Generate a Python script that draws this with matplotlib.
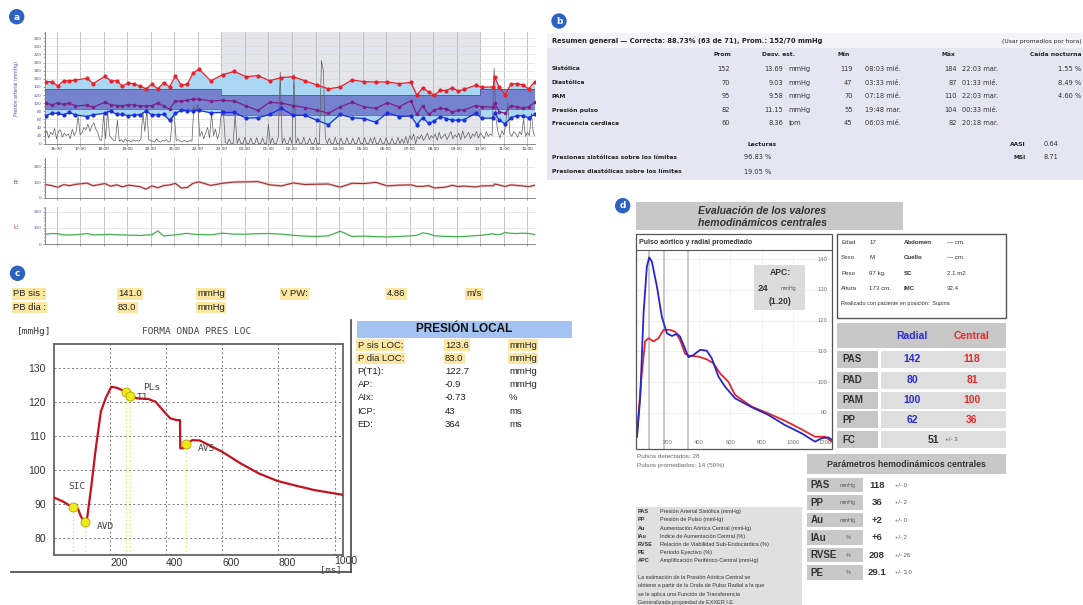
import matplotlib
matplotlib.use('Agg')
import matplotlib.pyplot as plt
from matplotlib.patches import Rectangle, Circle
from matplotlib.ticker import MultipleLocator
from matplotlib.transforms import Bbox
from matplotlib import font_manager

W, H = 1083, 605

# ---------------- panel a: MAPA 24 h ----------------
read_times = ['15:33', '15:48', '16:03', '16:18', '16:33', '16:48', '17:18', '17:33', '18:03', '18:18',
              '18:33', '18:48', '19:03', '19:18', '19:33', '19:48', '20:03', '20:18', '20:33', '20:48',
              '21:03', '21:18', '21:33', '21:48', '22:03', '22:33', '23:03', '23:33', '00:03', '00:33',
              '01:03', '01:33', '02:03', '02:33', '03:03', '03:33', '04:03', '04:33', '05:03', '05:33',
              '06:03', '06:33', '07:03', '07:18', '07:33', '07:48', '08:03', '08:18', '08:33', '08:48',
              '09:03', '09:18', '09:48', '10:03', '10:33', '10:36', '10:48', '11:03', '11:18', '11:33',
              '11:48', '12:03', '12:18']
sys_bp = [153, 153, 142, 155, 155, 157, 161, 148, 166, 155, 155, 142, 150, 147, 142, 135, 147, 135, 150, 140,
          167, 144, 147, 174, 184, 155, 170, 178, 165, 168, 155, 163, 165, 155, 145, 135, 140, 157, 153, 152,
          152, 148, 151, 120, 137, 128, 119, 132, 131, 138, 130, 134, 144, 139, 140, 164, 140, 121, 147, 148,
          145, 135, 152]
dia_bp = [69, 75, 75, 71, 77, 71, 67, 71, 75, 81, 72, 72, 69, 71, 71, 80, 71, 71, 72, 58,
          75, 82, 81, 81, 82, 76, 77, 77, 63, 64, 72, 87, 70, 70, 58, 47, 72, 64, 62, 53,
          76, 67, 68, 47, 64, 50, 56, 67, 62, 58, 58, 59, 75, 63, 63, 76, 58, 49, 64, 69,
          69, 64, 72]
pam_bp = [100, 96, 100, 97, 100, 93, 95, 90, 102, 96, 94, 93, 96, 95, 93, 93, 94, 100, 93, 85,
          105, 105, 107, 110, 110, 105, 107, 105, 93, 82, 102, 100, 94, 89, 83, 75, 91, 102, 91, 87,
          101, 91, 106, 72, 93, 72, 83, 87, 86, 78, 83, 83, 94, 91, 90, 100, 79, 75, 94, 91,
          87, 91, 102]
pp_vals = [84, 78, 67, 84, 78, 86, 94, 77, 91, 74, 83, 70, 81, 76, 71, 55, 76, 64, 78, 82,
           92, 62, 66, 93, 102, 79, 93, 101, 102, 104, 83, 76, 95, 85, 87, 88, 68, 93, 91, 99,
           76, 81, 83, 73, 73, 78, 63, 65, 69, 80, 72, 75, 69, 76, 77, 88, 82, 72, 83, 79,
           76, 71, 80]
fc_vals = [62, 66, 65, 57, 57, 58, 66, 57, 60, 61, 58, 58, 56, 55, 54, 57, 58, 82, 50, 55,
           57, 63, 67, 62, 60, 58, 68, 62, 62, 65, 66, 62, 55, 50, 48, 52, 80, 48, 50, 47,
           45, 48, 52, 55, 70, 64, 52, 50, 48, 48, 46, 48, 53, 55, 65, 60, 58, 72, 67, 66,
           68, 66, 60]
day_limits = (135, 85)
night_limits = (120, 70)
night_start, night_end = '23:00', '10:00'
activity_start = '15:30'   # one value every 5 min
activity = [18, 32, 14, 28, 22, 38, 12, 30, 34, 16, 26, 20,
            24, 12, 36, 20, 30, 68, 22, 28, 40, 34, 48, 30,
            44, 52, 36, 28, 10, 8, 72, 12, 82, 20, 14, 8,
            8, 58, 6, 10, 4, 12, 6, 8, 4, 10, 6, 8,
            6, 12, 78, 30, 84, 10, 8, 6, 4, 12, 6, 4,
            8, 6, 10, 4, 6, 62, 70, 8, 10, 6, 4, 8,
            6, 4, 8, 6, 92, 80, 96, 18, 30, 12, 26, 40,
            14, 76, 20, 36, 12, 28, 78, 82, 4, 0, 12, 0,
            0, 72, 0, 14, 0, 0, 16, 0, 0, 14, 0, 0,
            15, 0, 0, 14, 0, 0, 48, 0, 14, 0, 0, 16,
            176, 0, 14, 0, 0, 16, 0, 170, 0, 14, 0, 0,
            16, 0, 0, 14, 0, 0, 15, 0, 0, 205, 180, 14,
            0, 14, 0, 0, 16, 0, 0, 14, 0, 0, 15, 0,
            0, 14, 0, 0, 16, 0, 0, 15, 0, 0, 14, 0,
            16, 0, 0, 14, 0, 0, 15, 0, 0, 14, 0, 0,
            16, 0, 12, 0, 18, 0, 20, 10, 24, 0, 18, 12,
            22, 8, 16, 26, 10, 20, 14, 24, 8, 28, 12, 18,
            24, 10, 20, 30, 12, 22, 16, 26, 10, 32, 14, 20,
            28, 12, 24, 18, 30, 14, 26, 20, 12, 30, 18, 24,
            20, 186, 60, 28, 14, 32, 22, 55, 100, 26, 18, 30,
            24, 16, 30, 22, 60, 18, 28, 20, 75, 26, 18, 30]

# ---------------- panel b: resumen ----------------
b_params = ['Sistólica', 'Diastólica', 'PAM', 'Presión pulso', 'Frecuencia cardiaca']
b_prom = ['152', '70', '95', '82', '60']
b_desv = ['13.69', '9.03', '9.58', '11.15', '8.36']
b_unit = ['mmHg', 'mmHg', 'mmHg', 'mmHg', 'lpm']
b_min = ['119', '47', '70', '55', '45']
b_min_t = ['08:03 mié.', '03:33 mié.', '07:18 mié.', '19:48 mar.', '06:03 mié.']
b_max = ['184', '87', '110', '104', '82']
b_max_t = ['22:03 mar.', '01:33 mié.', '22:03 mar.', '00:33 mié.', '20:18 mar.']
b_caida = ['1.55 %', '8.49 %', '4.60 %', '', '']
b_lect_labels = ['Presiones sistólicas sobre los límites', 'Presiones diastólicas sobre los límites']
b_lect = ['96.83 %', '19.05 %']

# ---------------- panel c: presión local ----------------
wave_ms = [0, 33, 66, 86, 96, 109, 118, 132, 149, 167, 184, 204, 224, 257, 272, 296, 336, 362, 388, 414,
           438, 449, 450, 461, 471, 493, 520, 546, 599, 664, 730, 796, 862, 928, 1030]
wave_mmhg = [91.8, 90.6, 88.9, 88.4, 86.2, 84.7, 85.7, 94.5, 106.3, 117.1, 121.0, 124.4, 124.1, 122.9,
             121.8, 121.0, 120.8, 120.0, 117.5, 115.1, 114.6, 114.6, 106.3, 106.3, 107.5, 108.7, 108.6,
             107.5, 105.3, 101.9, 98.9, 96.7, 95.3, 94.0, 92.6]
pts_names = ['SIC', 'AVD', 'PLs', 'T1', 'AVS']
pts_ms = [66, 109, 257, 272, 471]
pts_mmhg = [88.9, 84.5, 122.9, 121.8, 107.5]
local_labels = ['P sis LOC:', 'P dia LOC:', 'P(T1):', 'AP:', 'AIx:', 'ICP:', 'ED:']
local_values = ['123.6', '83.0', '122.7', '-0.9', '-0.73', '43', '364']
local_units = ['mmHg', 'mmHg', 'mmHg', 'mmHg', '%', 'ms', 'ms']

# ---------------- panel d: valores centrales ----------------
radial_ms = [6, 27, 48, 69, 84, 101, 133, 164, 196, 228, 260, 280, 302, 333, 365, 408, 450, 482, 524, 566,
             630, 736, 841, 947, 1053, 1138, 1180, 1222, 1254]
radial_mmhg = [82.2, 95.2, 122.4, 137.6, 140.6, 139.2, 131.1, 121.3, 115.9, 115.0, 115.7, 114.8, 112.1,
               108.1, 108.8, 110.5, 110.2, 107.7, 101.8, 98.5, 94.7, 91.8, 89.3, 86.0, 83.3, 80.6, 81.7,
               82.0, 80.9]
central_ms = [6, 33, 58, 79, 111, 143, 175, 217, 249, 280, 312, 344, 397, 450, 492, 535, 587, 630, 736,
              841, 947, 1053, 1138, 1201, 1254]
central_mmhg = [82.2, 100.7, 113.2, 114.3, 113.2, 114.3, 117.0, 117.0, 116.4, 113.7, 109.2, 108.5, 108.3,
                107.4, 106.1, 102.8, 100.1, 95.8, 92.0, 89.8, 87.4, 84.6, 82.2, 82.2, 80.3]
marks_ms = [84, 181, 333]
apc = ('24', '(1.20)')
patient = [('Edad', '17', 'Abdomen', '— cm.'), ('Sexo', 'M', 'Cuello', '— cm.'),
           ('Peso', '97 kg.', 'SC', '2.1 m2'), ('Altura', '173 cm.', 'IMC', '32.4')]
rc_params = ['PAS', 'PAD', 'PAM', 'PP']
rc_radial = ['142', '80', '100', '62']
rc_central = ['118', '81', '100', '36']
fc_value, fc_sd = '51', '+/- 3'
hc_params = ['PAS', 'PP', 'Au', 'IAu', 'RVSE', 'PE']
hc_units = ['mmHg', 'mmHg', 'mmHg', '%', '%', '%']
hc_values = ['118', '36', '+2', '+6', '208', '29.1']
hc_sd = ['+/- 0', '+/- 2', '+/- 0', '+/- 2', '+/- 26', '+/- 3.0']
legend_abbr = ['PAS', 'PP', 'Au', 'IAu', 'RVSE', 'PE', 'APC']
legend_desc = ['Presión Arterial Sistólica (mmHg)', 'Presión de Pulso (mmHg)',
               'Aumentación Aórtica Central (mmHg)', 'Indice de Aumentación Central (%)',
               'Relación de Viabilidad Sub-Endocárdica (%)', 'Período Eyectivo (%)',
               'Amplificación Periférico-Central (mmHg)']
legend_note = ['La estimación de la Presión Aórtica Central se',
               'obtiene a partir de la Onda de Pulso Radial a la que',
               'se le aplica una Función de Transferencia',
               'Generalizada propiedad de EXXER I.E.']


def hrs(s):
    h, m = map(int, s.split(':'))
    v = h + m / 60
    return v + 24 if v < 15 else v


names = {f.name for f in font_manager.fontManager.ttflist}
NARROW = 'Liberation Sans Narrow' if 'Liberation Sans Narrow' in names else 'Liberation Sans'
NS = 1.0 if NARROW == 'Liberation Sans Narrow' else 0.82
ARIAL = 'Liberation Sans'
plt.rcParams['font.family'] = ['DejaVu Sans']

fig = plt.figure(figsize=(W / 100, H / 100), dpi=100)


def rect(x0, y0, x1, y1):
    return [x0 / W, 1 - y1 / H, (x1 - x0) / W, (y1 - y0) / H]


def overlay():
    ov = fig.add_axes([0, 0, 1, 1])
    ov.set_xlim(0, W)
    ov.set_ylim(H, 0)
    ov.axis('off')
    return ov


bg = overlay()

# ===== panel a =====
t_read = [hrs(t) for t in read_times]
x0a, x1a = 15.51, 36.32
ns, ne = hrs(night_start), hrs(night_end)
band_t = [x0a, ns, ns, ne, ne, x1a]
band_hi = [day_limits[0], day_limits[0], night_limits[0], night_limits[0], day_limits[0], day_limits[0]]
band_lo = [day_limits[1], day_limits[1], night_limits[1], night_limits[1], day_limits[1], day_limits[1]]
act_t = [hrs(activity_start) + i / 12 for i in range(len(activity))]
hours = list(range(16, 37))


def style_small(ax, ymax, yticks, minor):
    ax.set_xlim(x0a, x1a)
    ax.set_ylim(0, ymax)
    ax.set_xticks(hours)
    ax.set_yticks(yticks)
    ax.yaxis.set_minor_locator(MultipleLocator(minor))
    ax.tick_params(labelsize=3, length=1.5, width=0.4, pad=1, colors='#555')
    ax.tick_params(axis='y', which='minor', length=1, width=0.3)
    ax.tick_params(axis='y', labelcolor='#5050a8')
    ax.xaxis.grid(True, color='#b8b8b8', lw=0.6)
    ax.yaxis.grid(True, color='#dcdcdc', lw=0.5)
    ax.set_axisbelow(True)
    for s in ['top', 'right']:
        ax.spines[s].set_visible(False)
    for s in ['left', 'bottom']:
        ax.spines[s].set_color('#777')
        ax.spines[s].set_linewidth(0.6)


ax_a = fig.add_axes(rect(45, 31.7, 535, 143.7))
style_small(ax_a, 276, range(0, 261, 20), 10)
ax_a.set_xticklabels([f'{h % 24:02d}:00' for h in hours], color='#333')
ax_a.axvspan(ns, ne, color='#e5e5ec', lw=0, zorder=0)
ax_a.fill_between(t_read, sys_bp, dia_bp, color='#a9d6f3', lw=0, zorder=2)
ax_a.fill_between(band_t, band_lo, band_hi, color='#5f5fc2', alpha=0.7, lw=0, zorder=3)
ax_a.plot(band_t, band_hi, color='#4a4a9a', lw=0.5, zorder=3)
ax_a.plot(band_t, band_lo, color='#4a4a9a', lw=0.5, zorder=3)
ax_a.plot(act_t, activity, color='#5e5e5e', lw=0.5, zorder=3.5)
ax_a.plot(t_read, sys_bp, color='#e8202a', marker='o', ms=2, lw=0.9, zorder=5)
ax_a.plot(t_read, pam_bp, color='#7a2288', marker='o', ms=1.6, lw=0.9, zorder=5)
ax_a.plot(t_read, dia_bp, color='#1a2ee0', marker='o', ms=2, lw=0.9, zorder=5)

ax_pp = fig.add_axes(rect(45, 158.3, 535, 197.7))
style_small(ax_pp, 254, [0, 100, 200], 20)
ax_pp.set_xticklabels([])
ax_pp.plot(t_read, pp_vals, color='#f0b8b8', lw=1.8)
ax_pp.plot(t_read, pp_vals, color='#8e2c2c', lw=0.7)

ax_fc = fig.add_axes(rect(45, 206.7, 535, 244.3))
style_small(ax_fc, 230, [0, 100, 200], 20)
ax_fc.set_xticklabels([])
ax_fc.plot(t_read, fc_vals, color='#3db34a', lw=0.9)

# ===== panel b backgrounds =====
bg.add_patch(Rectangle((547, 33.3), 540, 15, color='#f3f3f8', lw=0))
bg.add_patch(Rectangle((547, 48.3), 540, 132, color='#e6e6f3', lw=0))

# ===== panel c chart =====
ax_c = fig.add_axes(rect(54, 344.3, 343, 555))
ax_c.set_xlim(0, 1030)
ax_c.set_ylim(74.9, 136.9)
ax_c.set_xticks([200, 400, 600, 800])
ax_c.set_yticks([80, 90, 100, 110, 120, 130])
ax_c.tick_params(length=0, labelsize=7.5, colors='#333', pad=6)
ax_c.tick_params(axis='x', pad=2)
for lab in ax_c.get_xticklabels():
    lab.set_ha('left')
    lab.set_family(ARIAL)
for lab in ax_c.get_yticklabels():
    lab.set_family(ARIAL)
ax_c.grid(True, color='#7a7a7a', ls=(0, (2, 2.5)), lw=0.7)
ax_c.axvline(1000, color='#7a7a7a', ls=(0, (2, 2.5)), lw=0.7)
for s in ax_c.spines.values():
    s.set_color('#666')
    s.set_linewidth(1.3)
ax_c.vlines(pts_ms, 74.9, pts_mmhg, colors='#efe78a', linestyles=(0, (1.5, 1.5)), lw=0.9, zorder=2)
ax_c.plot(wave_ms, wave_mmhg, color='#c4121e', lw=1.6, zorder=3)
ax_c.plot(pts_ms, pts_mmhg, 'o', ms=6.5, mfc='#eeea1c', mec='#b0a300', mew=0.6, zorder=4)
label_off = {'SIC': (-3, 15), 'AVD': (9, -3), 'PLs': (12, 3), 'T1': (5, -1), 'AVS': (8.5, -3)}
for n, xm, ym in zip(pts_names, pts_ms, pts_mmhg):
    ax_c.annotate(n, (xm, ym), xytext=label_off[n], textcoords='offset points',
                  ha='left', va='center', fontsize=6.8, family='DejaVu Sans Mono', color='#444', zorder=5)

# ===== panel d chart =====
ax_d = fig.add_axes(rect(636, 250, 832, 449))
ax_d.set_xlim(0, 1246)
ax_d.set_ylim(78.2, 143)
ax_d.set_xticks([])
ax_d.set_yticks([])
for s in ax_d.spines.values():
    s.set_visible(False)
for v in range(90, 141, 10):
    ax_d.axhline(v, color='#efefef', lw=0.6, zorder=0)
    ax_d.text(1215, v, str(v), ha='right', va='center', fontsize=4.2, color='#777', family=ARIAL)
for v in range(200, 1201, 200):
    ax_d.axvline(v, color='#f2f2f2', lw=0.6, zorder=0)
    ax_d.text(v, 80.2, str(v), ha='center', va='center', fontsize=4.2, color='#777', family=ARIAL,
              clip_on=True)
for m in marks_ms:
    ax_d.axvline(m, color='#c4c4c4', lw=1.3, zorder=1)
ax_d.plot(central_ms, central_mmhg, color='#e8262c', lw=1.3, zorder=3)
ax_d.plot(radial_ms, radial_mmhg, color='#2626cc', lw=1.3, zorder=4)

fg = overlay()


def badge(x, y, letter):
    fg.add_patch(Circle((x, y), 7, color='#2d62c2', zorder=5))
    fg.text(x, y + 0.3, letter, ha='center', va='center', color='white', fontsize=6.5,
            fontweight='bold', zorder=6)


badge(16.7, 16.7, 'a')
badge(559, 21, 'b')
badge(17.5, 273.3, 'c')
badge(622.7, 205.7, 'd')

# panel a side labels
fg.text(16.5, 88, 'Presión arterial (mmHg)', rotation=90, ha='center', va='center', fontsize=3.3,
        color='#5050a8')
fg.text(17, 180, 'PP', rotation=90, ha='center', va='center', fontsize=3.3, color='#5050a8')
fg.text(17, 225, 'FC', rotation=90, ha='center', va='center', fontsize=3.3, color='#c05070')

# ===== panel b texts =====
tb = dict(color='#222', va='center')
fg.text(552, 41, 'Resumen general — Correcta: 88.73% (63 de 71), Prom.: 152/70 mmHg', fontsize=4.9,
        fontweight='bold', **tb)
fg.text(1082, 41, '(Usar promedios por hora)', fontsize=4.3, ha='right', **tb)
hb = dict(fontsize=4.3, fontweight='bold', **tb)
fg.text(731.7, 55, 'Prom', ha='right', **hb)
fg.text(761.5, 55, 'Desv. est.', ha='left', **hb)
fg.text(838, 55, 'Mín', ha='left', **hb)
fg.text(942, 55, 'Máx', ha='left', **hb)
fg.text(1081, 55, 'Caída nocturna', ha='right', **hb)
vb = dict(fontsize=4.8, color='#333', va='center')
for i, name in enumerate(b_params):
    y = 69 + i * 13.6
    fg.text(552, y, name, ha='left', **hb)
    fg.text(730, y, b_prom[i], ha='right', **vb)
    fg.text(783, y, b_desv[i], ha='right', **vb)
    fg.text(788, y, b_unit[i], ha='left', **vb)
    fg.text(852.5, y, b_min[i], ha='right', **vb)
    fg.text(864.7, y, b_min_t[i], ha='left', **vb)
    fg.text(956.7, y, b_max[i], ha='right', **vb)
    fg.text(962, y, b_max_t[i], ha='left', **vb)
    fg.text(1081, y, b_caida[i], ha='right', **vb)
fg.text(747.6, 144, 'Lecturas', ha='left', **hb)
fg.text(1025.4, 144, 'AASI', ha='right', **hb)
fg.text(1044, 144, '0.64', ha='left', **vb)
fg.text(1025.4, 157.3, 'MSI', ha='right', **hb)
fg.text(1044, 157.3, '8.71', ha='left', **vb)
for i, name in enumerate(b_lect_labels):
    y = 157.3 + i * 14.4
    fg.text(552, y, name, ha='left', **hb)
    fg.text(743.5, y, b_lect[i], ha='left', **vb)

# ===== panel c texts =====
hl = dict(boxstyle='square,pad=0.12', fc='#fbe7a1', ec='none')
tc = dict(family=NARROW, fontsize=8.3 * NS, color='#222', va='center', ha='left')
for i in range(2):
    y = 294 + i * 13.3
    fg.text(13, y, ['PB sis :', 'PB dia :'][i], bbox=hl, **tc)
    fg.text(118, y, ['141.0', '83.0'][i], bbox=hl, **tc)
    fg.text(197, y, 'mmHg', bbox=hl, **tc)
fg.text(281, 294, 'V PW:', bbox=hl, **tc)
fg.text(387, 294, '4.86', bbox=hl, **tc)
fg.text(466, 294, 'm/s', bbox=hl, **tc)
fg.text(16.7, 332, '[mmHg]', fontsize=6.8, family='DejaVu Sans Mono', color='#333', va='center')
fg.text(197, 332, 'FORMA ONDA PRES LOC', fontsize=6.8, family='DejaVu Sans Mono', color='#444',
        ha='center', va='center')
fg.text(320, 569.5, '[ms]', fontsize=6.5, family='DejaVu Sans Mono', color='#444', va='center')
t1000 = fg.text(334.6, 561, '1000', fontsize=7.5, family=ARIAL, color='#333', va='center', ha='left')
t1000.set_clip_box(Bbox.from_extents(0, 0, 350.5, H))
fg.plot([351.3, 351.3], [320, 571.7], color='#444', lw=1.2)
fg.plot([11, 351.3], [571.7, 571.7], color='#444', lw=1.2)
fg.add_patch(Rectangle((357, 321), 215, 16.7, color='#a4c2f2', lw=0))
fg.text(464.5, 329.5, 'PRESIÓN LOCAL', ha='center', va='center', fontsize=8.5, fontweight='bold',
        family=ARIAL, color='#111')
for i, lab in enumerate(local_labels):
    y = 345 + i * 13.2
    box = hl if i < 2 else None
    fg.text(357.6, y, lab, bbox=box, **tc)
    fg.text(445, y, local_values[i], bbox=box, **tc)
    fg.text(509, y, local_units[i], bbox=box, **tc)

# ===== panel d texts and boxes =====
fg.add_patch(Rectangle((636, 202.3), 267, 27.7, color='#c8c8c8', lw=0, zorder=1))
ti = dict(ha='center', va='center', fontsize=7.6, fontweight='bold', fontstyle='italic', family=ARIAL,
          color='#333', zorder=2)
fg.text(762, 210.7, 'Evaluación de los valores', **ti)
fg.text(762, 223.3, 'hemodinámicos centrales', **ti)
fg.add_patch(Rectangle((636, 234.3), 196, 215, fill=False, ec='#555', lw=0.9))
fg.plot([636, 832], [250, 250], color='#555', lw=0.8)
fg.text(639, 242.5, 'Pulso aórtico y radial promediado', fontsize=5, fontweight='bold', family=ARIAL,
        color='#333', va='center')
fg.add_patch(Rectangle((754.3, 265), 50.7, 45, color='#dcdcdc', lw=0))
fg.text(780, 272.7, 'APC:', ha='center', va='center', fontsize=6.2, fontweight='bold', family=ARIAL,
        color='#333')
fg.text(762.5, 288.3, apc[0], ha='center', va='center', fontsize=6.8, fontweight='bold', family=ARIAL,
        color='#333')
fg.text(788, 288.3, 'mmHg', ha='center', va='center', fontsize=3.8, family=ARIAL, color='#555')
fg.text(780, 301.7, apc[1], ha='center', va='center', fontsize=6.2, fontweight='bold', family=ARIAL,
        color='#333')
fg.text(637, 456.7, 'Pulsos detectados: 28', fontsize=4.6, family=ARIAL, color='#666', va='center')
fg.text(637, 465, 'Pulsos promediados: 14 (50%)', fontsize=4.6, family=ARIAL, color='#666', va='center')

# patient box
fg.add_patch(Rectangle((837.3, 234.3), 168.7, 83.4, fill=False, ec='#555', lw=1))
tp = dict(fontsize=4.4, family=ARIAL, color='#333', va='center', ha='left')
for i, (l1, v1, l2, v2) in enumerate(patient):
    y = 242.7 + i * 15.2
    fg.text(841, y, l1, **tp)
    fg.text(869.3, y, v1, **tp)
    fg.text(904, y, l2, fontweight='bold', **tp)
    fg.text(946.7, y, v2, **tp)
fg.text(841, 303.3, 'Realizado con paciente en posición:  Supina', **dict(tp, fontsize=4.0))

# radial / central table
fg.add_patch(Rectangle((837, 323.3), 169, 25, color='#c8c8c8', lw=0))
fg.text(912, 336, 'Radial', ha='center', va='center', fontsize=7.5, fontweight='bold', family=ARIAL,
        color='#2a2ad8')
fg.text(972, 336, 'Central', ha='center', va='center', fontsize=7.5, fontweight='bold', family=ARIAL,
        color='#e82a2a')
row_y = [350.7, 371.7, 391.7, 411, 431]
for i, y in enumerate(row_y):
    fg.add_patch(Rectangle((837, y), 40.7, 17, color='#c6c6c6', lw=0))
    fg.add_patch(Rectangle((881, y), 125, 17, color='#dedede', lw=0))
    lab = rc_params[i] if i < 4 else 'FC'
    fg.text(842, y + 8.7, lab, ha='left', va='center', fontsize=7, fontweight='bold', family=ARIAL,
            color='#333')
    if i < 4:
        fg.text(912, y + 8.7, rc_radial[i], ha='center', va='center', fontsize=7.5, fontweight='bold',
                family=ARIAL, color='#2a2ad8')
        fg.text(972, y + 8.7, rc_central[i], ha='center', va='center', fontsize=7.5, fontweight='bold',
                family=ARIAL, color='#e82a2a')
    else:
        fg.text(933, y + 8.7, fc_value, ha='center', va='center', fontsize=7.5, fontweight='bold',
                family=ARIAL, color='#333')
        fg.text(945, y + 8.2, fc_sd, ha='left', va='center', fontsize=4.4, family=ARIAL, color='#555')

# central hemodynamic parameters
fg.add_patch(Rectangle((807.3, 454), 198.7, 20.3, color='#c8c8c8', lw=0))
fg.text(906.5, 464.2, 'Parámetros hemodinámicos centrales', ha='center', va='center', fontsize=6.3,
        fontweight='bold', family=ARIAL, color='#333')
for i, p in enumerate(hc_params):
    y = 477.7 + i * 17.5
    fg.add_patch(Rectangle((807.3, y), 55.4, 14.7, color='#c8c8c8', lw=0))
    fg.text(810.7, y + 7.4, p, ha='left', va='center', fontsize=7, fontweight='bold', family=ARIAL,
            color='#333')
    fg.text(848, y + 7.4, hc_units[i], ha='center', va='center', fontsize=3.9, family=ARIAL, color='#555')
    fg.text(877, y + 7.4, hc_values[i], ha='center', va='center', fontsize=6.8, fontweight='bold',
            family=ARIAL, color='#333')
    fg.text(895, y + 7.4, hc_sd[i], ha='left', va='center', fontsize=4.2, family=ARIAL, color='#555')

# legend box
fg.add_patch(Rectangle((636, 506.7), 166.3, 100, color='#e0e0e0', lw=0))
tl = dict(fontsize=4.0, family=ARIAL, color='#333', va='center', ha='left')
for i, (a, d) in enumerate(zip(legend_abbr, legend_desc)):
    y = 511.7 + i * 8.2
    fg.text(638, y, a, fontweight='bold', **tl)
    fg.text(660, y, d, **tl)
for i, line in enumerate(legend_note):
    fg.text(638, 577.3 + i * 8.4, line, **tl)

fig.savefig('out.png', dpi=100)
